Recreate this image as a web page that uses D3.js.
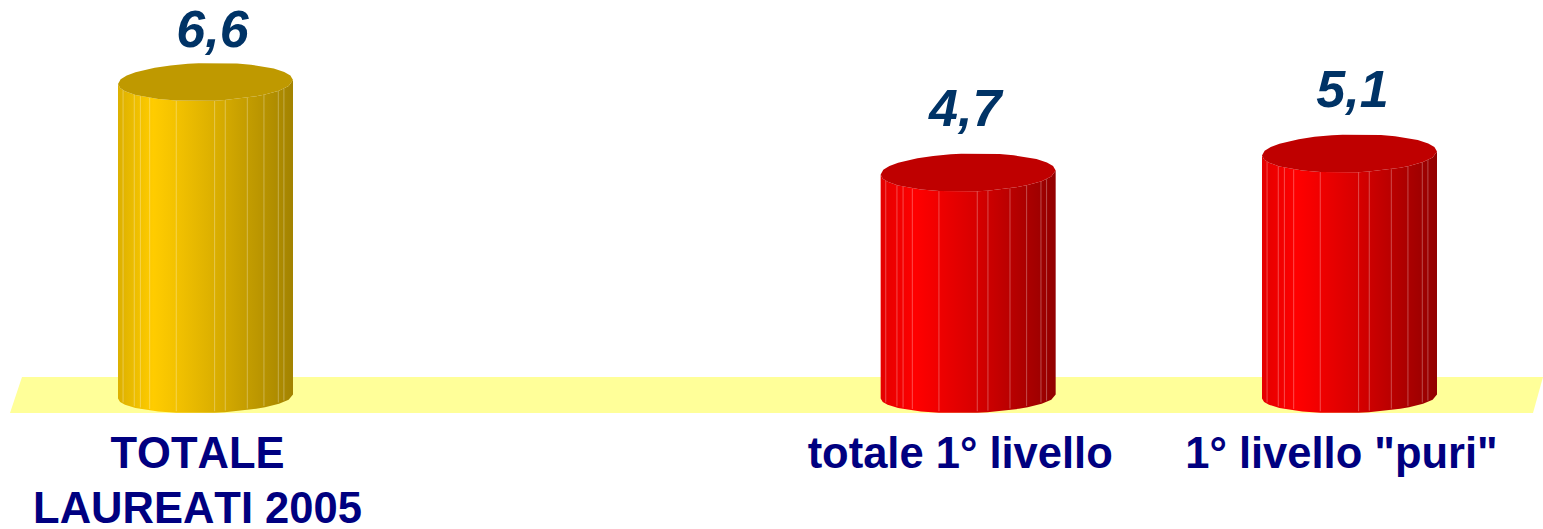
<!DOCTYPE html>
<html>
<head>
<meta charset="utf-8">
<script src="https://d3js.org/d3.v7.min.js"></script>
<style>
  html, body { margin: 0; padding: 0; background: #fff; overflow: hidden; }
  text { font-family: "Liberation Sans", Arial, sans-serif; font-weight: bold; font-kerning: none; }
</style>
</head>
<body>
<div id="chart"></div>
<script>
// data
var categories = ["TOTALE|LAUREATI 2005", "", "totale 1° livello", "1° livello \"puri\""];
var values = [6.6, null, 4.7, 5.1];
var valueLabels = ["6,6", "", "4,7", "5,1"];
var palettes = ["gold", "", "red", "red"];

var width = 1543, height = 529;
var barW = 175, ryTop = 19, ryBase = 16.5, tilt = 2;

var svg = d3.select("#chart").append("svg")
    .attr("width", width).attr("height", height);

var x = d3.scalePoint().domain(d3.range(categories.length)).range([205.5, 1349.5]);
var y = d3.scaleLinear().domain([0, 6.6]).range([396.5, 82]);

// colours of the shaded sides
var shades = {
    gold: { top: "#BF9900", stops: ["#DCB000", "#FFCC00", "#F3C200", "#DBAF00", "#A38300"] },
    red: { top: "#BF0000", stops: ["#E40000", "#FF0000", "#F00000", "#D60000", "#920000"] }
};
var stopAt = [0, 0.2, 0.33, 0.55, 1];

var defs = svg.append("defs");
Object.keys(shades).forEach(function(k) {
    var g = defs.append("linearGradient").attr("id", "side-" + k);
    shades[k].stops.forEach(function(c, i) {
        g.append("stop").attr("offset", stopAt[i]).attr("stop-color", c);
    });
});

// floor
svg.append("path")
    .attr("d", "M22,377L1543,377L1533,413L10,413Z")
    .attr("fill", "#FFFF99");

// facet corners of the cylinder, as fraction of its width
var front = [0, .012, .04, .1, .23, .333, .552, .61, .79, .84, .92, .975, 1];
var back = [1, .985, .95, .89, .76, .68, .46, .4, .3, .21, .1, .05, .015, 0];
var lit = [.029, .093, .128, .181, .333, .552, .613, .739, .834, .916, .948];

function ring(f, cy, ry, dir) {
    var cx = f * 2 - 1;
    return [f * barW, cy + dir * ry * Math.sqrt(1 - cx * cx) - tilt * cx];
}

var line = d3.line();

categories.forEach(function(cat, i) {
    if (values[i] == null) return;
    var g = svg.append("g").attr("transform", "translate(" + (x(i) - barW / 2) + ",0)");
    var yTop = y(values[i]), yBase = y(0);

    // side
    var side = front.map(function(f) { return ring(f, yBase, ryBase, 1); })
        .concat(front.slice().reverse().map(function(f) { return ring(f, yTop, ryTop, 1); }));
    g.append("path").attr("d", line(side) + "Z")
        .attr("fill", "url(#side-" + palettes[i] + ")");

    // thin light edges between facets
    lit.forEach(function(f) {
        var a = ring(f, yTop, ryTop, 1), b = ring(f, yBase, ryBase, 1);
        g.append("line")
            .attr("x1", a[0]).attr("y1", a[1]).attr("x2", b[0]).attr("y2", b[1] - 1.5)
            .attr("stroke", "#fff").attr("stroke-opacity", 0.3).attr("stroke-width", 1);
    });

    // top
    var cap = front.map(function(f) { return ring(f, yTop, ryTop, 1); })
        .concat(back.map(function(f) { return ring(f, yTop, ryTop, -1); }));
    g.append("path").attr("d", line(cap) + "Z").attr("fill", shades[palettes[i]].top);
});

// value labels
var valueNudge = [[7, -35], null, [-3, -47], [3, -46]];
categories.forEach(function(cat, i) {
    if (values[i] == null) return;
    svg.append("text")
        .attr("x", x(i) + valueNudge[i][0])
        .attr("y", y(values[i]) + valueNudge[i][1])
        .attr("text-anchor", "middle")
        .attr("font-size", 52)
        .attr("font-style", "italic")
        .attr("fill", "#003366")
        .text(valueLabels[i]);
});

// category labels
categories.forEach(function(cat, i) {
    if (!cat) return;
    cat.split("|").forEach(function(part, j) {
        svg.append("text")
            .attr("x", x(i) - 8)
            .attr("y", 468 + j * 55)
            .attr("text-anchor", "middle")
            .attr("font-size", 43.5)
            .attr("fill", "#000080")
            .text(part);
    });
});
</script>
</body>
</html>
